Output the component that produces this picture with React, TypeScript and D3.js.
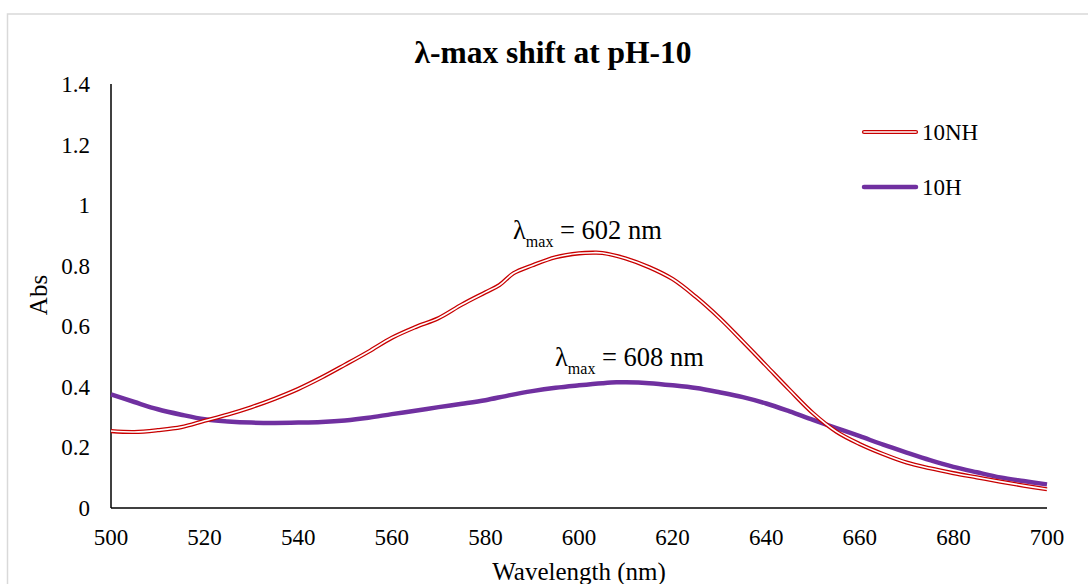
import React from "react";
import * as d3 from "d3";

const wavelengths = [500,505,510,515,520,525,530,535,540,545,550,555,560,565,570,575,580,583,586,590,595,600,603,605,610,615,620,625,630,635,640,645,650,655,660,665,670,675,680,685,690,695,700];
const abs10NH = [0.254,0.251,0.257,0.267,0.288,0.309,0.333,0.361,0.393,0.431,0.473,0.516,0.562,0.597,0.627,0.672,0.712,0.736,0.775,0.801,0.828,0.841,0.843,0.842,0.824,0.795,0.756,0.697,0.628,0.550,0.470,0.390,0.313,0.252,0.211,0.178,0.150,0.131,0.115,0.101,0.087,0.074,0.062];
const wavelengthsH = [500,505,510,515,520,525,530,535,540,545,550,555,560,565,570,575,580,585,590,595,600,605,608,610,615,620,625,630,635,640,645,650,655,660,665,670,675,680,685,690,695,700];
const abs10H = [0.375,0.350,0.326,0.308,0.293,0.286,0.282,0.281,0.282,0.284,0.289,0.298,0.310,0.321,0.333,0.344,0.356,0.372,0.386,0.397,0.405,0.412,0.415,0.415,0.412,0.405,0.396,0.382,0.366,0.345,0.319,0.291,0.264,0.237,0.209,0.183,0.158,0.136,0.118,0.101,0.089,0.078];
const xTicks = [500,520,540,560,580,600,620,640,660,680,700];
const yTicks = [0,0.2,0.4,0.6,0.8,1,1.2,1.4];
const seriesNames = ["10NH", "10H"];
const titleText = "λ-max shift at pH-10";

export default function App() {
  const x = d3.scaleLinear().domain([500, 700]).range([111, 1047]);
  const y = d3.scaleLinear().domain([0, 1.4]).range([508, 84]);
  const lineNH = d3.line<number>().x((_, i) => x(wavelengths[i])).y((d) => y(d)).curve(d3.curveCatmullRom.alpha(0.5));
  const lineH = d3.line<number>().x((_, i) => x(wavelengthsH[i])).y((d) => y(d)).curve(d3.curveCatmullRom.alpha(0.5));
  const font = "Liberation Serif, Times New Roman, DejaVu Serif, serif";
  const red = "#C80000";
  const purple = "#7030A0";
  return (
    <svg width={1088} height={584} style={{ position: "absolute", left: 0, top: 0, background: "#fff", fontFamily: font }}>
      <rect x={7.5} y={14} width={1120} height={620} fill="#fff" stroke="#d9d9d9" strokeWidth={1.5} />
      <text x={553} y={63} textAnchor="middle" fontSize={31.5} fontWeight="bold" style={{ fontFamily: font }}>{titleText}</text>
      {yTicks.map((t) => (
        <text key={t} x={90} y={y(t)} dy="0.35em" textAnchor="end" fontSize={23} style={{ fontFamily: font }}>{String(t)}</text>
      ))}
      {xTicks.map((t) => (
        <text key={t} x={x(t)} y={545} textAnchor="middle" fontSize={23} style={{ fontFamily: font }}>{String(t)}</text>
      ))}
      <text transform="translate(47,295) rotate(-90)" textAnchor="middle" fontSize={25} style={{ fontFamily: font }}>Abs</text>
      <text x={579} y={580} textAnchor="middle" fontSize={25} style={{ fontFamily: font }}>Wavelength (nm)</text>
      <line x1={111} x2={111} y1={84} y2={508} stroke="#000" strokeWidth={1.5} />
      <line x1={111} x2={1047} y1={508} y2={508} stroke="#000" strokeWidth={1.5} />
      <path d={lineH(abs10H) || ""} fill="none" stroke={purple} strokeWidth={4.5} strokeLinejoin="round" />
      <path d={lineNH(abs10NH) || ""} fill="none" stroke={red} strokeWidth={4.2} strokeLinejoin="round" />
      <path d={lineNH(abs10NH) || ""} fill="none" stroke="#fff" strokeWidth={1.6} strokeLinejoin="round" />
      <g>
        <line x1={864} x2={916} y1={132} y2={132} stroke={red} strokeWidth={4.2} strokeLinecap="round" />
        <line x1={864} x2={916} y1={132} y2={132} stroke="#fff" strokeWidth={1.6} strokeLinecap="round" />
        <text x={922} y={140} fontSize={23} style={{ fontFamily: font }}>{seriesNames[0]}</text>
        <line x1={864} x2={916} y1={187} y2={187} stroke={purple} strokeWidth={4.5} strokeLinecap="round" />
        <text x={922} y={195} fontSize={23} style={{ fontFamily: font }}>{seriesNames[1]}</text>
      </g>
      <text x={513} y={239} fontSize={26.5} style={{ fontFamily: font }}>λ<tspan fontSize={16} dy={8}>max</tspan><tspan dy={-8}> = 602 nm</tspan></text>
      <text x={555} y={366} fontSize={26.5} style={{ fontFamily: font }}>λ<tspan fontSize={16} dy={8}>max</tspan><tspan dy={-8}> = 608 nm</tspan></text>
    </svg>
  );
}
